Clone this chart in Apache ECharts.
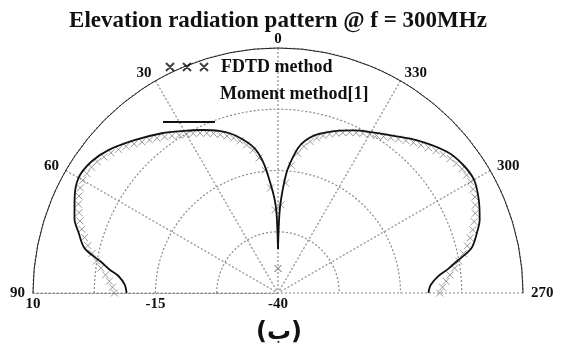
<!DOCTYPE html>
<html>
<head>
<meta charset="utf-8">
<script src="https://cdn.jsdelivr.net/npm/echarts@6/dist/echarts.min.js"></script>
<style>
  html, body { margin: 0; padding: 0; background: #fff; }
  #chart { width: 571px; height: 352px; }
</style>
</head>
<body>
<div id="chart"></div>
<script>
// angles are measured off the vertical (0 = top); left lobe sits at +theta, right lobe at 360 - theta
const momentAngles = [0, 1, 2, 4, 6, 8, 10, 13, 16, 20, 25, 30, 36, 43, 50, 55, 60, 65, 70, 73, 77, 80, 82, 84, 87, 90];
const momentLeft = [-31, -24, -21, -17.5, -13.8, -11.2, -9.5, -7.8, -6.3, -4.8, -3.3, -1.8, 0.3, 2.7, 5.3, 6.6, 7.0, 5.8, 4.2, 2.6, 0.5, -3.3, -5.2, -7.3, -8.7, -9.1];
const momentRight = [-31, -24, -20.5, -15.5, -12.5, -10, -8.5, -7.0, -6.0, -4.8, -3.4, -2.1, -0.3, 2.4, 4.9, 5.9, 6.2, 5.2, 3.8, 2.5, 0.5, -3.0, -5.0, -7.1, -8.8, -9.3];

const fdtdAngles = [0, 2, 4, 6, 8, 10, 12, 14, 16, 18, 20, 22, 24, 26, 28, 30, 32, 34, 36, 38, 40, 42, 44,
  46, 48, 50, 52, 54, 56, 58, 60, 62, 64, 66, 68, 70, 72, 74, 76, 78, 80, 82, 84, 86, 88, 90];
const fdtdLeft = [-35, -23, -18.5, -14.8, -12.2, -10.4, -9.1, -8.0, -7.1, -6.3, -5.6, -4.9, -4.3, -3.7, -3.1,
  -2.6, -2.0, -1.3, -0.6, 0.1, 0.8, 1.5, 2.3, 3.1, 3.8, 4.5, 5.1, 5.6, 5.9, 6.0, 6.0, 5.7, 5.2, 4.6, 3.8,
  3.0, 2.1, 1.1, 0.0, -1.2, -2.4, -3.5, -4.6, -5.5, -6.2, -6.6];
const fdtdRight = [-35, -22, -17.5, -13.8, -11.2, -9.6, -8.4, -7.4, -6.6, -5.9, -5.3, -4.7, -4.1, -3.6, -3.1,
  -2.6, -2.1, -1.5, -0.8, -0.1, 0.6, 1.3, 2.0, 2.7, 3.4, 4.0, 4.6, 5.0, 5.3, 5.4, 5.4, 5.1, 4.7, 4.1, 3.4,
  2.6, 1.8, 0.8, -0.2, -1.3, -2.5, -3.6, -4.7, -5.6, -6.4, -7.0];

const radiusLabels = [-40, -15, 10];
const titleText = 'Elevation radiation pattern @ f = 300MHz';
const captionText = '(ب)';

const serif = "'Liberation Serif', 'Times New Roman', serif";
const dotted = { color: '#8a8a8a', width: 1.2, type: [2, 2] };
const xMark = 'path://M0,0L10,10M10,0L0,10';

// axis value: left side negative, right side positive
const leftPts = (angles, vals) => vals.map((v, i) => [v, -angles[i]]);
const rightPts = (angles, vals) => vals.map((v, i) => [v, angles[i]]);

const chart = echarts.init(document.getElementById('chart'));

const fdtdStyle = {
  type: 'scatter',
  coordinateSystem: 'polar',
  name: 'FDTD method',
  symbol: xMark,
  symbolSize: 7,
  itemStyle: { color: 'transparent', borderColor: '#808080', borderWidth: 1 },
  z: 2,
};
const momentStyle = {
  type: 'line',
  coordinateSystem: 'polar',
  name: 'Moment method[1]',
  showSymbol: false,
  smooth: 0.3,
  lineStyle: { color: '#111', width: 1.8 },
  itemStyle: { color: '#111' },
  z: 3,
};

chart.setOption({
  animation: false,
  backgroundColor: '#fff',
  title: [
    {
      text: titleText,
      left: 278,
      textAlign: 'center',
      top: 10,
      padding: 0,
      textStyle: { fontFamily: serif, fontWeight: 'bold', fontSize: 23, color: '#111' },
    },
    {
      text: captionText,
      left: 279,
      textAlign: 'center',
      top: 321,
      padding: 0,
      textStyle: { fontFamily: "'DejaVu Sans', sans-serif", fontWeight: 'bold', fontSize: 24, color: '#111' },
    },
  ],
  legend: [
    {
      left: 165,
      top: 58,
      padding: 0,
      selectedMode: false,
      itemWidth: 42,
      itemHeight: 8,
      data: [{
        name: 'FDTD method',
        icon: 'path://M0,0L8,8M8,0L0,8M17,0L25,8M25,0L17,8M34,0L42,8M42,0L34,8',
        itemStyle: { color: 'transparent', borderColor: '#111', borderWidth: 2 },
      }],
      textStyle: { fontFamily: serif, fontWeight: 'bold', fontSize: 18, color: '#111', padding: [0, 0, 0, 8] },
    },
    {
      // the sample line sits below its text, as in the source figure
      left: 163,
      top: 65,
      padding: 0,
      selectedMode: false,
      itemWidth: 52,
      itemHeight: 58,
      data: [{
        name: 'Moment method[1]',
        icon: 'path://M0,56h52v2h-52z M0,0h0.05v0.05h-0.05z',
        itemStyle: { color: '#111' },
      }],
      textStyle: { fontFamily: serif, fontWeight: 'bold', fontSize: 18, color: '#111' },
    },
  ],
  polar: { center: [278, 293], radius: 245 },
  angleAxis: {
    type: 'value',
    min: -90,
    max: 90,
    interval: 30,
    startAngle: 180,
    endAngle: 0,
    clockwise: true,
    axisLine: { lineStyle: { color: '#222', width: 1 } },
    axisTick: { show: false },
    axisLabel: {
      margin: 8,
      lineHeight: 1,
      fontFamily: serif,
      fontWeight: 'bold',
      fontSize: 15,
      color: '#111',
      formatter: (v) => (v <= 0 ? String(-v) : String(360 - v)),
    },
    splitLine: { show: true, lineStyle: dotted },
  },
  radiusAxis: {
    type: 'value',
    min: -40,
    max: 10,
    interval: 12.5,
    axisLine: { show: true, lineStyle: dotted },
    axisTick: { show: false },
    axisLabel: {
      margin: 4,
      fontFamily: serif,
      fontWeight: 'bold',
      fontSize: 15,
      color: '#111',
      formatter: (v) => (radiusLabels.includes(v) ? String(v) : ''),
    },
    splitLine: { show: true, lineStyle: dotted },
  },
  series: [
    { ...fdtdStyle, data: leftPts(fdtdAngles, fdtdLeft) },
    { ...fdtdStyle, data: rightPts(fdtdAngles, fdtdRight) },
    { ...momentStyle, data: leftPts(momentAngles, momentLeft) },
    { ...momentStyle, data: rightPts(momentAngles, momentRight) },
  ],
});
</script>
</body>
</html>
